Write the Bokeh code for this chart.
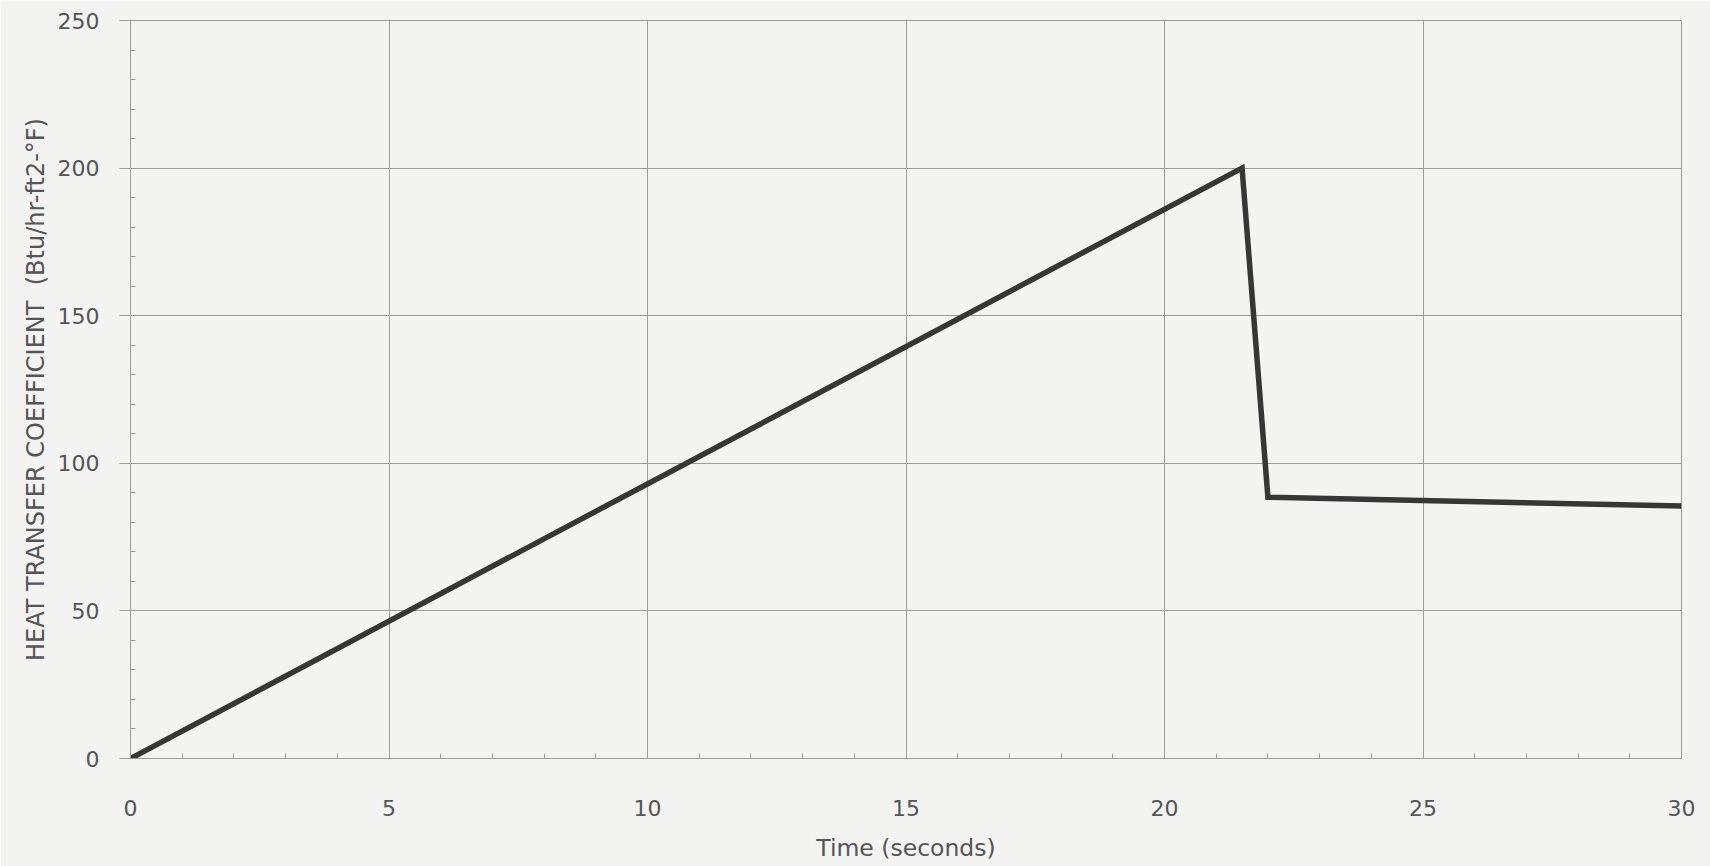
from bokeh.plotting import figure
from bokeh.models import SingleIntervalTicker, Range1d
from bokeh.embed import file_html
from bokeh.resources import INLINE

# Heat transfer coefficient history (time in seconds, HTC in Btu/hr-ft2-°F)
time_s = [0.0, 21.5, 22.0, 30.0]
htc = [0.0, 200.0, 88.5, 85.5]

x_ticks_interval = 5
y_ticks_interval = 50

FONT = "DejaVu Sans"
TEXT = "#555555"
GRID = "#9c9c9c"
BG = "#f3f3f2"

p = figure(
    width=1710, height=866,
    x_range=Range1d(0, 30), y_range=Range1d(0, 250),
    output_backend="svg", toolbar_location=None,
    background_fill_color=BG, border_fill_color=BG,
    min_border_left=130, min_border_right=29,
    min_border_top=20, min_border_bottom=108,
)

p.line(time_s, htc, line_color="#363636", line_width=5.5, line_join="miter")

p.xaxis.ticker = SingleIntervalTicker(interval=x_ticks_interval, num_minor_ticks=5)
p.yaxis.ticker = SingleIntervalTicker(interval=y_ticks_interval, num_minor_ticks=5)

for ax in (p.xaxis[0], p.yaxis[0]):
    ax.axis_line_color = GRID
    ax.axis_line_width = 1
    ax.major_tick_line_color = GRID
    ax.minor_tick_line_color = GRID
    ax.major_tick_in = 0
    ax.minor_tick_in = 5
    ax.minor_tick_out = 0
    ax.major_label_text_font = FONT
    ax.major_label_text_font_size = "22px"
    ax.major_label_text_color = TEXT
    ax.axis_label_text_font = FONT
    ax.axis_label_text_font_style = "normal"
    ax.axis_label_text_color = TEXT

p.xaxis.major_tick_out = 0
p.xaxis.major_label_standoff = 41
p.xaxis.axis_label = "Time (seconds)"
p.xaxis.axis_label_text_font_size = "23.5px"
p.xaxis.axis_label_standoff = 15

p.yaxis.major_tick_out = 11
p.yaxis.major_label_standoff = 20
p.yaxis.axis_label = "HEAT TRANSFER COEFFICIENT\u00a0\u00a0(Btu/hr-ft2-°F)"
p.yaxis.axis_label_text_font_size = "24px"
p.yaxis.axis_label_standoff = 5

p.xgrid.grid_line_color = GRID
p.ygrid.grid_line_color = GRID
p.xgrid.grid_line_width = 1
p.ygrid.grid_line_width = 1
p.outline_line_color = GRID

open("out.html", "w").write(file_html(p, INLINE))
